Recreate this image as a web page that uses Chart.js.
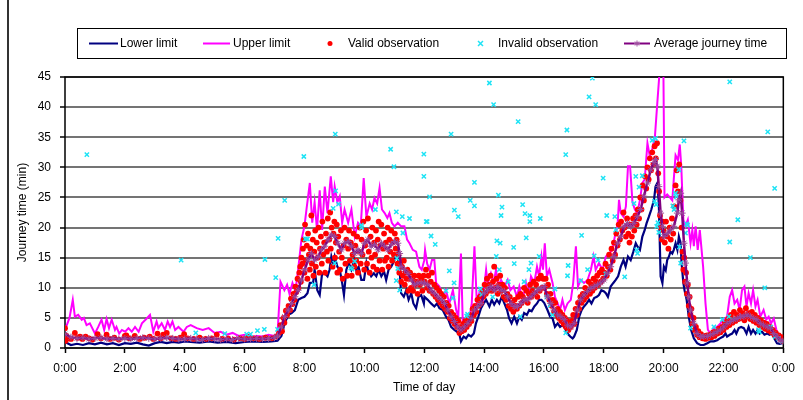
<!DOCTYPE html>
<html><head><meta charset="utf-8">
<script src="https://cdn.jsdelivr.net/npm/chart.js@4.4.1/dist/chart.umd.min.js"></script>
<style>html,body{margin:0;padding:0;background:#fff;}canvas{display:block;}</style>
</head><body>
<canvas id="c" width="803" height="400"></canvas>
<script>
const seriesNames = ['Lower limit','Upper limit','Valid observation','Invalid observation','Average journey time'];
const xTickLabels = ['0:00','2:00','4:00','6:00','8:00','10:00','12:00','14:00','16:00','18:00','20:00','22:00','0:00'];
const xTitle = 'Time of day';
const yTitle = 'Journey time (min)';

// [hour of day, minutes]
const lowerLimit = [[0.0,1.0],[0.2,0.5],[0.4,0.7],[0.6,0.5],[0.8,0.8],[1.0,0.6],[1.2,0.9],[1.4,0.6],[1.6,0.8],[1.8,0.5],[2.0,0.8],[2.2,0.7],[2.4,0.9],[2.6,0.6],[2.8,0.4],[3.0,0.8],[3.2,1.0],[3.4,0.8],[3.6,1.0],[3.8,0.9],[4.0,1.1],[4.2,1.0],[4.5,0.9],[4.8,1.1],[5.1,0.9],[5.4,1.0],[5.7,0.8],[6.0,1.0],[6.3,1.1],[6.6,1.0],[6.9,1.1],[7.1,1.2],[7.23,2.0],[7.34,4.1],[7.46,5.5],[7.57,5.8],[7.68,6.3],[7.79,8.0],[7.9,8.3],[8.0,8.5],
[8.1,9.1],[8.18,10.8],[8.29,10.8],[8.34,13.0],[8.43,9.6],[8.51,8.8],[8.59,12.4],[8.68,12.4],[8.77,11.9],[8.84,13.0],[8.9,15.2],[8.96,14.1],[9.01,15.2],[9.1,13.5],[9.18,13.0],[9.26,10.8],[9.32,8.8],[9.4,13.0],[9.48,14.1],[9.57,13.0],[9.66,14.6],[9.73,13.0],[9.81,13.5],[9.9,11.3],[9.99,11.3],[10.07,14.1],[10.12,13.0],[10.23,11.9],[10.32,12.4],[10.4,11.9],[10.48,13.0],[10.57,11.9],[10.66,12.7],[10.73,11.3],[10.81,13.0],[10.9,13.5],[11.01,14.6],[11.1,15.7],[11.18,13.0],[11.23,9.1],[11.32,8.5],[11.4,9.6],[11.48,8.0],[11.57,9.1],[11.64,7.4],[11.73,6.6],[11.81,8.5],[11.9,8.8],[11.99,7.4],
[12.01,8.5],[12.12,8.0],[12.23,7.4],[12.34,6.9],[12.43,7.4],[12.51,6.6],[12.62,6.3],[12.73,5.2],[12.81,4.7],[12.9,3.5],[13.01,3.0],[13.1,2.7],[13.18,2.2],[13.23,1.1],[13.32,1.9],[13.4,1.6],[13.48,2.2],[13.57,1.9],[13.66,2.4],[13.73,4.1],[13.81,5.2],[13.9,6.6],[13.99,7.4],[14.07,8.0],[14.18,6.9],[14.26,8.0],[14.34,7.2],[14.43,8.0],[14.51,7.4],[14.59,8.5],[14.68,7.4],[14.77,6.3],[14.84,4.9],[14.92,4.1],[15.01,5.2],[15.1,4.1],[15.18,5.2],[15.26,4.7],[15.34,5.8],[15.43,5.5],[15.51,6.3],[15.59,6.1],[15.68,6.9],[15.77,7.4],[15.84,8.0],[15.92,8.0],[16.01,7.5],
[16.12,6.3],[16.21,5.2],[16.29,4.9],[16.37,3.5],[16.46,4.1],[16.54,3.5],[16.62,3.8],[16.7,3.3],[16.79,2.4],[16.88,1.9],[16.96,1.6],[17.01,1.9],[17.1,3.0],[17.18,5.2],[17.26,6.3],[17.34,6.9],[17.43,7.4],[17.51,8.0],[17.59,7.4],[17.68,8.3],[17.77,8.5],[17.84,8.8],[17.92,9.6],[18.01,9.4],[18.07,9.1],[18.14,8.5],[18.23,10.2],[18.32,10.8],[18.4,11.3],[18.48,11.9],[18.57,13.5],[18.66,14.6],[18.73,13.5],[18.81,15.2],[18.9,14.6],[18.99,16.0],[19.07,17.4],[19.12,16.9],[19.21,16.3],[19.29,18.5],[19.37,19.6],[19.43,20.7],[19.51,21.8],[19.59,23.0],[19.68,24.6],[19.73,26.8],[19.79,27.4],[19.84,24.0],[19.9,11.9],[19.96,10.8],
[20.01,13.5],[20.07,12.9],[20.12,14.6],[20.18,15.2],[20.23,16.0],[20.29,15.7],[20.34,16.3],[20.4,17.4],[20.46,16.3],[20.51,18.5],[20.57,17.4],[20.6,14.1],[20.66,10.8],[20.7,9.6],[20.77,8.0],[20.84,5.2],[20.92,3.0],[21.01,1.6],[21.12,0.8],[21.23,0.5],[21.34,0.5],[21.46,0.8],[21.57,1.1],[21.68,1.1],[21.79,1.3],[21.88,1.6],[21.99,1.9],[22.07,2.4],[22.12,1.9],[22.21,2.2],[22.29,2.4],[22.37,3.0],[22.43,2.4],[22.51,3.3],[22.59,3.5],[22.68,3.3],[22.77,2.4],[22.84,3.5],[22.92,2.4],[22.99,3.0],[23.07,2.4],[23.14,3.0],[23.21,2.4],[23.29,2.7],[23.37,2.2],[23.46,2.4],[23.54,2.2],[23.62,2.4],[23.7,1.6],[23.79,0.8],[23.88,0.7],[23.96,0.8]];

const upperLimit = [[0.0,3.0],[0.15,5.0],[0.26,8.0],[0.33,5.2],[0.44,5.5],[0.56,4.7],[0.63,5.0],[0.72,3.8],[0.83,4.1],[1.0,2.4],[1.11,3.5],[1.22,4.7],[1.31,3.0],[1.39,4.8],[1.47,3.3],[1.56,4.7],[1.67,3.0],[1.72,3.5],[1.81,2.4],[1.9,3.0],[2.01,2.7],[2.12,3.3],[2.23,2.7],[2.34,3.5],[2.46,2.7],[2.57,4.1],[2.73,4.9],[2.84,5.5],[2.95,2.7],[3.06,4.4],[3.12,3.3],[3.23,4.1],[3.34,3.0],[3.43,4.4],[3.51,3.5],[3.59,4.4],[3.68,3.0],[3.79,3.5],[3.96,2.7],[4.07,3.5],
[4.2,3.8],[4.4,3.3],[4.6,3.0],[4.8,3.3],[5.0,2.5],[5.2,2.7],[5.4,2.2],[5.6,2.5],[5.8,2.0],[6.0,2.2],[6.2,1.8],[6.4,2.0],[6.6,1.9],[6.8,2.2],[7.0,2.0],[7.1,2.3],[7.2,11.0],[7.33,9.6],[7.42,10.5],[7.5,9.0],[7.6,10.8],[7.7,9.4],[7.8,13.5],[7.9,18.0],[8.0,20.2],
[8.07,23.1],[8.18,27.4],[8.26,20.8],[8.34,24.2],[8.42,19.6],[8.51,26.2],[8.59,19.6],[8.68,26.8],[8.77,22.4],[8.88,28.5],[8.96,24.2],[9.01,26.8],[9.1,24.2],[9.18,25.2],[9.26,20.8],[9.34,23.0],[9.46,20.8],[9.57,23.0],[9.68,18.5],[9.79,20.8],[9.88,20.2],[9.98,28.2],[10.07,21.8],[10.18,24.0],[10.26,23.0],[10.34,24.9],[10.43,24.0],[10.51,26.6],[10.59,23.0],[10.68,22.4],[10.77,21.6],[10.84,22.4],[10.92,20.8],[11.01,20.2],[11.12,20.8],[11.23,20.2],[11.34,20.2],[11.43,18.0],[11.51,17.4],[11.62,16.3],[11.73,16.0],[11.84,13.5],[11.92,13.0],[12.0,14.5],
[12.03,16.3],[12.1,14.0],[12.18,13.0],[12.26,14.6],[12.34,14.6],[12.4,10.8],[12.51,10.2],[12.62,8.5],[12.73,9.6],[12.84,7.4],[12.96,9.6],[13.07,6.3],[13.14,5.2],[13.23,15.7],[13.29,4.1],[13.4,5.2],[13.51,4.9],[13.59,7.4],[13.68,16.9],[13.76,7.4],[13.84,9.1],[13.96,8.0],[14.07,13.0],[14.12,10.8],[14.23,12.4],[14.32,10.8],[14.4,13.0],[14.48,10.2],[14.57,11.3],[14.68,10.2],[14.79,11.3],[14.88,9.6],[14.99,10.2],[15.1,8.5],[15.18,10.2],[15.29,8.0],[15.4,10.8],[15.48,8.5],[15.57,11.9],[15.68,10.8],[15.77,13.5],[15.84,11.9],[15.92,15.2],[15.97,13.0],
[16.03,17.4],[16.1,11.9],[16.18,13.0],[16.29,10.8],[16.37,8.5],[16.46,7.4],[16.54,6.3],[16.62,8.0],[16.7,6.3],[16.79,7.4],[16.9,8.0],[16.98,10.8],[17.07,16.9],[17.14,10.2],[17.23,11.3],[17.34,10.8],[17.46,11.3],[17.57,13.0],[17.66,15.2],[17.73,13.0],[17.84,14.1],[17.96,13.0],[18.07,15.2],[18.18,15.7],[18.29,16.3],[18.37,18.5],[18.46,20.2],[18.51,24.6],[18.57,22.4],[18.66,21.8],[18.74,23.5],[18.81,30.2],[18.88,30.2],[18.96,24.2],[19.04,23.0],[19.12,22.4],[19.21,24.6],[19.29,27.4],[19.37,28.0],[19.46,34.0],[19.54,31.8],[19.62,33.0],[19.71,35.1],[19.79,40.7],[19.86,45.5],[19.9,48.0],[19.99,48.0],
[20.03,25.0],[20.12,25.5],[20.21,25.0],[20.29,24.5],[20.34,28.0],[20.4,32.0],[20.48,31.2],[20.54,33.8],[20.59,30.2],[20.66,21.3],[20.73,20.2],[20.81,21.3],[20.9,17.4],[20.96,19.6],[21.01,16.9],[21.07,20.2],[21.14,16.3],[21.21,19.6],[21.28,15.7],[21.32,13.5],[21.4,7.4],[21.48,3.0],[21.57,2.4],[21.68,3.3],[21.79,3.5],[21.9,4.1],[22.01,4.7],[22.12,5.2],[22.21,8.5],[22.29,9.6],[22.37,7.4],[22.46,8.0],[22.54,6.3],[22.62,9.6],[22.7,10.2],[22.77,6.9],[22.84,9.1],[22.92,7.4],[22.99,9.6],[23.07,6.9],[23.14,8.0],[23.23,5.2],[23.34,6.3],[23.43,4.7],[23.51,5.2],[23.59,4.1],[23.68,4.9],[23.77,3.0],[23.84,1.9],[23.92,1.0],[23.99,1.3]];

const averageTime = [[0.0,2.3],[0.2,1.8],[0.4,1.6],[0.6,1.7],[0.8,1.5],[1.0,1.6],[1.2,1.7],[1.4,1.5],[1.6,1.6],[1.8,1.5],[2.0,1.6],[2.2,1.5],[2.4,1.6],[2.6,1.7],[2.8,1.6],[3.0,1.5],[3.2,1.6],[3.4,1.7],[3.6,1.6],[3.8,1.5],[4.0,1.5],[4.2,1.6],[4.4,1.5],[4.6,1.4],[4.8,1.6],[5.0,1.5],[5.2,1.4],[5.4,1.5],[5.6,1.4],[5.8,1.6],[6.0,1.5],[6.2,1.5],[6.4,1.6],[6.6,1.5],[6.8,1.6],[7.0,1.7],[7.1,2.0],[7.23,3.5],[7.34,5.2],[7.46,6.3],[7.57,7.4],[7.68,8.5],[7.79,9.6],[7.9,11.3],[8.01,13.0],
[8.12,14.6],[8.23,15.7],[8.34,14.6],[8.46,15.2],[8.57,16.3],[8.68,16.9],[8.79,18.0],[8.9,18.8],[9.01,18.5],[9.12,17.4],[9.23,16.3],[9.34,17.4],[9.46,17.7],[9.57,16.9],[9.68,15.7],[9.79,16.3],[9.9,15.7],[10.01,17.4],[10.12,18.0],[10.23,16.9],[10.34,17.2],[10.46,16.3],[10.57,17.4],[10.68,16.9],[10.79,16.3],[10.9,17.2],[11.01,17.7],[11.12,17.4],[11.18,15.7],[11.23,13.5],[11.34,13.0],[11.46,12.4],[11.57,11.3],[11.68,10.5],[11.79,10.8],[11.9,10.8],[12.01,10.8],
[12.12,10.5],[12.23,9.6],[12.34,9.1],[12.46,8.5],[12.57,8.0],[12.68,7.4],[12.79,6.3],[12.9,5.2],[13.01,4.4],[13.12,3.5],[13.23,3.0],[13.34,3.5],[13.46,4.1],[13.57,4.9],[13.68,6.3],[13.79,6.9],[13.9,7.4],[14.01,9.1],[14.12,9.6],[14.23,10.2],[14.34,9.6],[14.46,10.2],[14.57,9.6],[14.68,9.4],[14.79,8.5],[14.9,7.4],[15.01,6.9],[15.12,6.9],[15.23,7.4],[15.34,8.0],[15.46,8.0],[15.57,8.5],[15.68,9.1],[15.79,9.6],[15.9,9.9],[16.01,10.2],
[16.12,8.5],[16.23,7.4],[16.34,6.3],[16.46,5.5],[16.57,5.2],[16.68,4.7],[16.79,3.8],[16.9,3.5],[17.01,4.1],[17.12,6.3],[17.23,8.0],[17.34,8.8],[17.46,9.4],[17.57,9.9],[17.68,10.2],[17.79,10.5],[17.9,10.8],[18.01,11.3],[18.12,12.4],[18.23,13.5],[18.34,15.2],[18.46,17.4],[18.57,18.5],[18.68,20.2],[18.79,20.7],[18.9,20.2],[19.01,20.7],[19.12,21.8],[19.23,23.0],[19.34,25.2],[19.46,27.4],[19.57,29.6],[19.68,30.8],[19.73,31.3],[19.79,30.2],[19.84,26.8],[19.9,22.4],[19.96,20.2],
[20.01,18.5],[20.12,19.0],[20.23,19.6],[20.34,20.2],[20.46,22.4],[20.51,24.6],[20.57,25.7],[20.62,22.4],[20.68,17.4],[20.73,14.1],[20.79,10.8],[20.84,8.5],[20.9,6.3],[21.01,4.1],[21.12,2.4],[21.23,1.9],[21.34,1.9],[21.46,1.9],[21.57,2.2],[21.68,2.4],[21.79,2.7],[21.9,3.0],[22.01,3.5],[22.12,4.1],[22.23,4.4],[22.34,4.7],[22.46,4.9],[22.57,5.2],[22.68,5.2],[22.79,5.5],[22.9,5.2],[23.01,4.9],[23.12,4.7],[23.23,4.1],[23.34,3.8],[23.46,3.5],[23.57,3.3],[23.68,2.4],[23.79,1.9],[23.9,1.3],[23.99,1.1]];

const validObs = [[0.0,3.3],[0.02,1.2],[0.05,2.0],[0.12,1.6],[0.2,1.5],[0.33,2.5],[0.42,1.7],[0.5,1.9],[0.58,1.5],[0.69,1.9],[0.8,1.6],[0.92,1.4],[1.09,2.3],[1.2,1.6],[1.39,2.2],[1.5,1.5],[1.65,1.7],[1.8,1.4],[2.0,2.0],[2.05,2.1],[2.15,1.6],[2.33,2.0],[2.5,1.5],[2.65,1.7],[2.83,1.9],[2.95,1.5],[3.09,2.4],[3.2,1.6],[3.28,2.2],[3.4,2.5],[3.55,1.6],[3.7,1.5],[3.85,1.7],[3.98,2.3],[4.1,1.6],[4.3,1.5],[4.5,1.7],[4.7,1.5],[4.9,1.6],[5.07,2.2],[5.25,1.5],[5.45,1.6],[5.65,1.4],[5.85,1.6],[6.0,1.5],[6.12,1.9],[6.3,1.6],[6.5,1.5],[6.7,1.7],[6.9,1.6],[7.05,1.9],
[7.15,2.5],[7.2,3.8],[7.25,2.8],[7.3,5.0],[7.33,4.2],[7.38,6.2],[7.42,5.5],[7.47,7.0],[7.52,6.3],[7.55,8.2],[7.6,7.3],[7.63,9.0],[7.67,8.0],[7.7,10.2],[7.73,9.3],[7.77,11.5],[7.8,10.0],[7.83,12.5],[7.86,13.5],[7.88,11.0],[7.9,15.0],[7.93,14.0],[7.95,16.5],[7.98,18.0],[8.0,12.5],[8.02,20.5],
[8.05,14.5],[8.08,17.0],[8.1,11.5],[8.12,19.0],[8.15,15.5],[8.18,13.0],[8.2,16.5],[8.23,22.0],[8.25,14.0],[8.28,18.0],[8.3,12.0],[8.33,16.0],[8.36,19.5],[8.38,13.5],[8.41,17.5],[8.44,15.0],[8.47,20.0],[8.5,12.5],[8.52,16.5],[8.55,18.5],[8.58,14.0],[8.6,21.0],[8.63,15.5],[8.66,17.5],[8.69,12.5],[8.72,19.0],[8.75,16.0],[8.78,21.5],[8.8,14.5],[8.83,18.0],[8.86,22.5],[8.88,16.5],[8.91,20.0],[8.94,13.5],[8.97,19.0],[9.0,21.0],[9.02,15.0],[9.05,17.5],[9.08,20.5],[9.1,12.5],[9.13,18.5],[9.16,16.0],[9.19,13.0],[9.22,19.5],[9.25,15.0],[9.28,11.5],[9.31,17.0],[9.34,20.0],[9.37,14.0],[9.4,18.0],[9.43,12.0],[9.46,16.5],[9.49,19.5],[9.52,14.5],[9.55,17.5],[9.58,12.0],[9.61,15.5],[9.64,19.0],[9.67,13.5],[9.7,17.0],[9.73,14.5],[9.76,18.5],[9.79,12.5],[9.82,16.0],[9.85,20.0],[9.88,14.0],[9.91,18.0],[9.94,15.5],[9.97,21.0],[10.0,13.0],[10.03,17.0],[10.06,19.5],[10.09,14.0],[10.12,21.5],[10.15,16.0],[10.18,12.5],[10.21,18.5],[10.24,15.0],[10.27,20.0],[10.3,13.5],[10.33,17.5],[10.36,15.5],[10.39,19.5],[10.42,13.0],[10.45,18.0],[10.48,21.0],[10.51,14.5],[10.54,17.0],[10.57,20.5],[10.6,13.0],[10.63,16.5],[10.66,19.0],[10.69,14.5],[10.72,17.5],[10.75,15.0],[10.78,20.0],[10.81,13.5],[10.84,18.0],[10.87,16.0],[10.9,19.5],[10.93,14.5],[10.96,17.5],[10.99,15.5],[11.02,19.0],[11.05,16.5],[11.08,18.0],[11.11,14.0],[11.14,15.5],[11.17,12.5],[11.2,14.0],[11.23,11.0],[11.26,13.5],[11.29,12.0],[11.32,14.5],[11.35,10.5],[11.38,12.5],[11.41,11.5],[11.44,13.0],[11.47,9.5],[11.5,11.5],[11.53,12.5],[11.56,10.0],[11.6,11.5],[11.63,9.5],[11.67,12.0],[11.7,10.5],[11.74,11.0],[11.78,9.0],[11.82,12.0],[11.86,10.5],[11.9,11.5],[11.94,9.5],[11.98,12.0],
[12.02,11.0],[12.06,13.0],[12.1,10.0],[12.14,12.0],[12.18,9.5],[12.22,11.0],[12.26,12.5],[12.3,9.0],[12.34,10.5],[12.38,8.5],[12.42,10.0],[12.46,8.0],[12.5,9.5],[12.54,7.5],[12.58,9.0],[12.62,7.0],[12.66,8.5],[12.7,6.5],[12.74,7.5],[12.78,6.0],[12.82,7.0],[12.86,5.0],[12.9,6.0],[12.94,4.5],[12.98,5.5],[13.02,4.0],[13.06,5.0],[13.1,3.5],[13.14,4.5],[13.18,2.5],[13.22,3.5],[13.26,2.8],[13.3,4.0],[13.34,3.0],[13.38,4.5],[13.42,3.5],[13.46,5.0],[13.5,4.0],[13.54,5.5],[13.58,4.5],[13.62,6.5],[13.66,5.5],[13.7,7.0],[13.74,6.0],[13.78,8.0],[13.82,7.0],[13.86,8.5],[13.9,7.5],[13.94,9.5],[13.98,8.5],[14.02,10.5],[14.06,9.0],[14.1,11.5],[14.14,9.5],[14.18,10.5],[14.22,12.0],[14.26,9.5],[14.3,11.0],[14.34,13.5],[14.38,10.0],[14.42,11.5],[14.46,9.0],[14.5,10.5],[14.54,12.0],[14.58,9.5],[14.62,10.5],[14.66,8.5],[14.7,10.0],[14.74,8.0],[14.78,9.0],[14.82,7.0],[14.86,8.5],[14.9,6.5],[14.94,7.5],[14.98,6.0],[15.02,8.0],[15.06,7.0],[15.1,6.5],[15.14,8.5],[15.18,7.0],[15.22,9.0],[15.26,7.5],[15.3,8.5],[15.34,10.0],[15.38,8.0],[15.42,9.5],[15.46,7.5],[15.5,9.0],[15.54,10.5],[15.58,8.5],[15.62,9.5],[15.66,11.0],[15.7,9.0],[15.74,10.5],[15.78,8.5],[15.82,11.5],[15.86,9.5],[15.9,12.0],[15.94,10.0],[15.98,11.5],
[16.02,10.0],[16.06,11.5],[16.1,9.0],[16.14,10.5],[16.18,8.0],[16.22,9.0],[16.26,7.0],[16.3,8.0],[16.34,6.0],[16.38,7.5],[16.42,5.5],[16.46,6.5],[16.5,5.0],[16.54,6.0],[16.58,4.5],[16.62,5.5],[16.66,4.0],[16.7,5.0],[16.74,3.5],[16.78,4.5],[16.82,3.0],[16.86,4.0],[16.9,3.5],[16.94,4.5],[16.98,5.5],[17.02,4.0],[17.06,6.5],[17.1,5.5],[17.14,7.5],[17.18,6.5],[17.22,8.5],[17.26,7.5],[17.3,9.0],[17.34,8.0],[17.38,10.0],[17.42,8.5],[17.46,9.5],[17.5,11.0],[17.54,9.0],[17.58,10.5],[17.62,9.5],[17.66,11.5],[17.7,10.0],[17.74,11.0],[17.78,12.0],[17.82,10.5],[17.86,12.5],[17.9,11.0],[17.94,13.0],[17.98,11.5],[18.02,12.5],[18.06,14.0],[18.1,12.0],[18.14,13.5],[18.18,15.5],[18.22,13.0],[18.26,16.5],[18.3,14.5],[18.34,17.5],[18.38,15.5],[18.42,19.0],[18.46,17.0],[18.5,20.5],[18.54,18.0],[18.58,21.0],[18.62,19.5],[18.66,22.5],[18.7,20.0],[18.74,18.5],[18.78,21.5],[18.82,19.0],[18.86,17.5],[18.9,20.5],[18.94,18.5],[18.98,21.5],[19.02,19.5],[19.06,22.0],[19.1,20.5],[19.14,23.0],[19.18,21.5],[19.22,25.0],[19.26,23.0],[19.3,27.0],[19.34,24.5],[19.38,28.5],[19.42,26.5],[19.46,30.0],[19.5,28.0],[19.54,31.5],[19.58,29.5],[19.62,32.5],[19.66,30.5],[19.7,33.5],[19.74,31.5],[19.78,34.0],[19.82,29.0],[19.85,26.0],[19.88,22.0],[19.91,20.0],[19.94,18.0],[19.97,21.0],
[20.0,19.5],[20.04,17.5],[20.08,21.0],[20.12,18.5],[20.16,16.5],[20.2,20.0],[20.24,18.0],[20.28,21.5],[20.32,19.0],[20.36,23.5],[20.4,27.0],[20.44,29.5],[20.48,26.0],[20.52,30.5],[20.56,24.5],[20.6,20.0],[20.63,16.0],[20.66,13.0],[20.69,15.0],[20.72,11.0],[20.75,12.5],[20.78,9.0],[20.81,10.5],[20.84,7.0],[20.87,8.5],[20.9,5.5],[20.93,6.5],[20.96,4.0],[21.0,5.0],[21.04,3.0],[21.08,3.5],[21.12,2.2],[21.16,2.8],[21.2,1.8],[21.25,2.3],[21.3,1.6],[21.35,2.0],[21.4,1.5],[21.45,2.1],[21.5,1.7],[21.55,2.2],[21.6,1.8],[21.65,2.6],[21.7,2.0],[21.75,2.8],[21.8,2.4],[21.85,3.2],[21.9,2.6],[21.95,3.5],[22.0,3.0],[22.05,4.2],[22.1,3.5],[22.15,4.8],[22.2,3.8],[22.25,5.5],[22.3,4.2],[22.35,6.0],[22.4,4.5],[22.45,5.5],[22.5,4.8],[22.55,6.3],[22.6,5.0],[22.65,5.8],[22.7,4.6],[22.75,6.6],[22.8,5.2],[22.85,5.8],[22.9,4.8],[22.95,6.0],[23.0,4.5],[23.05,5.5],[23.1,4.2],[23.15,5.0],[23.2,3.8],[23.25,4.6],[23.3,3.5],[23.35,4.2],[23.4,3.2],[23.45,4.0],[23.5,2.9],[23.55,3.5],[23.6,2.6],[23.65,3.0],[23.7,2.2],[23.75,2.5],[23.8,1.8],[23.85,2.1],[23.9,1.5],[23.95,1.8],[23.99,1.2]];

const invalidObs = [[0.73,32.1],[3.88,14.6],[4.37,2.5],[5.34,2.4],[6.07,2.3],[6.2,2.3],[6.43,2.9],[6.66,3.1],[6.68,14.7],[7.04,11.7],[7.1,3.1],[7.12,18.2],[7.34,24.5],[7.98,31.8],[8.03,18.1],[8.1,18.1],[8.32,10.5],[8.96,23.2],[9.01,14.1],[9.03,35.5],[9.04,26.1],[9.14,23.9],[9.55,13.3],[9.59,13.1],[9.68,14.4],[9.9,20.4],[9.91,20.0],[10.37,23.0],[10.88,33.0],[10.99,30.1],[11.07,22.6],[11.09,14.9],[11.12,13.2],[11.07,11.2],[11.18,9.6],[11.27,21.8],[11.29,19.1],[11.51,21.5],[11.99,32.2],[11.99,28.5],[12.07,21.0],[12.1,21.0],[12.18,25.1],[12.23,18.6],[12.37,17.2],[12.73,9.5],[12.84,12.8],[12.9,35.5],[12.96,8.3],[13.0,10.8],[13.01,22.9],[13.14,21.8],[13.42,5.3],[13.45,5.6],[13.54,24.5],[13.68,23.6],[13.68,27.5],[13.88,9.8],[13.92,8.9],[14.18,44.0],[14.29,8.5],[14.32,40.4],[14.41,15.2],[14.43,17.8],[14.48,25.4],[14.51,13.0],[14.54,17.4],[14.57,22.0],[14.6,23.4],[14.81,11.0],[14.99,16.7],[15.01,14.0],[15.14,37.6],[15.21,5.2],[15.29,23.8],[15.34,11.0],[15.37,22.3],[15.41,18.3],[15.5,13.0],[15.53,22.0],[15.53,21.0],[15.57,14.1],[15.84,15.2],[15.88,21.5],[16.1,8.5],[16.21,7.1],[16.29,5.5],[16.37,9.8],[16.73,2.5],[16.73,32.1],[16.77,36.2],[16.79,12.0],[16.81,13.7],[17.23,11.2],[17.26,18.7],[17.46,13.0],[17.51,41.7],[17.62,44.8],[17.68,15.3],[17.73,40.4],[17.81,14.6],[17.98,28.2],[18.07,12.3],[18.1,22.0],[18.37,21.8],[18.4,19.6],[18.7,11.8],[19.01,24.0],[19.07,28.5],[19.1,16.3],[19.13,15.7],[19.18,26.7],[19.29,28.6],[19.62,34.5],[19.7,24.4],[19.73,34.8],[19.75,23.8],[19.77,20.2],[19.81,20.8],[19.84,19.2],[20.31,23.6],[20.35,23.0],[20.4,25.7],[20.43,25.1],[20.51,29.6],[20.53,16.8],[20.57,14.1],[20.68,34.4],[20.73,19.1],[20.77,20.6],[20.8,20.4],[20.9,3.3],[21.68,3.5],[21.96,4.7],[22.18,5.2],[22.21,17.6],[22.21,44.2],[22.48,21.3],[22.9,15.0],[23.17,3.0],[23.2,2.7],[23.38,10.0],[23.48,35.9],[23.57,3.5],[23.71,26.5],[23.73,1.9],[23.84,1.6],[23.96,1.1]];

const toXY = arr => arr.map(p => ({x: p[0], y: p[1]}));

const frame = {
  id: 'frame',
  beforeDatasetsDraw(chart) {
    const {ctx, chartArea: a} = chart;
    ctx.save();
    ctx.strokeStyle = '#000';
    ctx.lineWidth = 1.5;
    ctx.strokeRect(a.left, a.top, a.right - a.left, a.bottom - a.top);
    ctx.restore();
  },
  afterDraw(chart) {
    const ctx = chart.ctx;
    ctx.save();
    ctx.strokeStyle = '#333';
    ctx.lineWidth = 2;
    ctx.beginPath(); ctx.moveTo(8, 0); ctx.lineTo(8, 400); ctx.stroke();
    ctx.lineWidth = 1;
    ctx.strokeStyle = '#000';
    ctx.strokeRect(77.5, 28.5, 709, 30);
    ctx.font = '12px "Liberation Sans", Arial, sans-serif';
    ctx.textBaseline = 'middle';
    ctx.fillStyle = '#000';
    const y = 43.5;
    const seg = (x1, x2, c) => { ctx.strokeStyle = c; ctx.lineWidth = 2; ctx.beginPath(); ctx.moveTo(x1, y); ctx.lineTo(x2, y); ctx.stroke(); };
    seg(89, 118, '#000080'); ctx.fillText(seriesNames[0], 120, y);
    seg(203, 230, '#FF00FF'); ctx.fillText(seriesNames[1], 233, y);
    ctx.fillStyle = '#FF0000'; ctx.beginPath(); ctx.arc(330, y, 2.5, 0, Math.PI * 2); ctx.fill();
    ctx.fillStyle = '#000'; ctx.fillText(seriesNames[2], 348, y);
    ctx.strokeStyle = '#1EE3F5'; ctx.lineWidth = 1.5; ctx.beginPath();
    ctx.moveTo(478, y - 2.5); ctx.lineTo(483, y + 2.5); ctx.moveTo(483, y - 2.5); ctx.lineTo(478, y + 2.5); ctx.stroke();
    ctx.fillText(seriesNames[3], 498, y);
    seg(624, 650, '#800080');
    ctx.strokeStyle = '#A050A0'; ctx.lineWidth = 1; ctx.beginPath();
    ctx.moveTo(637, y - 3); ctx.lineTo(637, y + 3); ctx.moveTo(634, y); ctx.lineTo(640, y);
    ctx.moveTo(635, y - 2); ctx.lineTo(639, y + 2); ctx.moveTo(639, y - 2); ctx.lineTo(635, y + 2); ctx.stroke();
    ctx.fillText(seriesNames[4], 654, y);
    ctx.restore();
  }
};

const font = {family: '"Liberation Sans", Arial, sans-serif', size: 12};

new Chart(document.getElementById('c'), {
  type: 'scatter',
  data: {
    datasets: [
      {label: seriesNames[0], data: toXY(lowerLimit), showLine: true, borderColor: '#000080', borderWidth: 2.2, pointRadius: 0, order: 5},
      {label: seriesNames[1], data: toXY(upperLimit), showLine: true, borderColor: '#FF00FF', borderWidth: 2, pointRadius: 0, order: 4},
      {label: seriesNames[2], data: toXY(validObs), showLine: false, pointStyle: 'circle', pointRadius: 2.9, backgroundColor: '#FF0000', borderColor: '#FF0000', borderWidth: 0, order: 3},
      {label: seriesNames[3], data: toXY(invalidObs), showLine: false, pointStyle: 'crossRot', pointRadius: 3, borderColor: '#1EE3F5', borderWidth: 1.5, order: 2},
      {label: seriesNames[4], data: toXY(averageTime), showLine: true, borderColor: '#800080', borderWidth: 2.5, pointStyle: 'star', pointRadius: 3.5, pointBorderColor: '#9A4A9A', pointBorderWidth: 1, backgroundColor: '#800080', order: 1}
    ]
  },
  options: {
    responsive: false,
    animation: false,
    devicePixelRatio: 1,
    layout: {padding: {top: 77, right: 18, left: 0, bottom: 0}},
    plugins: {legend: {display: false}, tooltip: {enabled: false}},
    scales: {
      x: {
        type: 'linear', min: 0, max: 24,
        afterFit(s) { s.height = 52; },
        afterBuildTicks(s) { s.ticks = xTickLabels.map((l, i) => ({value: i * 2})); },
        ticks: {stepSize: 2, padding: 8, color: '#000', font, maxRotation: 0, autoSkip: false,
          callback: (v, i) => xTickLabels[i]},
        grid: {drawOnChartArea: false, drawTicks: true, tickLength: 5, tickColor: '#000', tickWidth: 1.5},
        border: {display: false},
        title: {display: true, text: xTitle, color: '#000', font, padding: {top: 4, bottom: 5}}
      },
      y: {
        min: 0, max: 45,
        afterFit(s) { s.width = 65; },
        ticks: {stepSize: 5, padding: 9, color: '#000', font},
        grid: {color: '#747474', lineWidth: 2, drawTicks: true, tickLength: 5, tickColor: '#000', tickWidth: 1.5},
        border: {display: false},
        title: {display: true, text: yTitle, color: '#000', font, padding: {top: 15, bottom: 0}}
      }
    }
  },
  plugins: [frame]
});
</script>
</body></html>
